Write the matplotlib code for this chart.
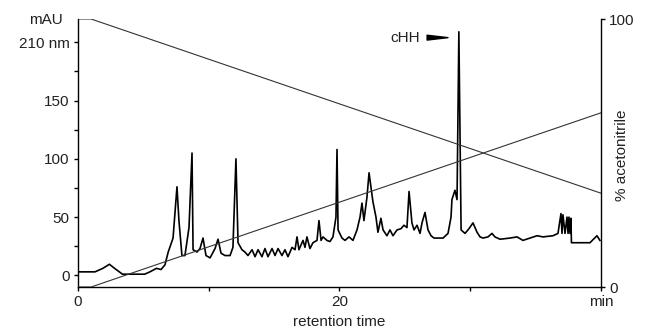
import matplotlib
matplotlib.use("Agg")
import matplotlib.pyplot as plt

plt.rcParams['font.family'] = ['Liberation Sans', 'DejaVu Sans']

# chromatogram (retention time in min, absorbance in mAU)
rt = [0, 1.3, 1.9, 2.4, 2.8, 3.4, 5.1, 5.5, 6.0, 6.35, 6.65, 6.9, 7.27, 7.57, 7.72,
      7.95, 8.18, 8.49, 8.72, 8.8, 9.1, 9.33, 9.56, 9.79, 10.1, 10.48, 10.71, 10.94,
      11.24, 11.63, 11.85, 12.08, 12.24, 12.54, 12.77, 13.0, 13.31, 13.54, 13.77, 14.07,
      14.3, 14.53, 14.84, 15.07, 15.3, 15.6, 15.83, 16.06, 16.37, 16.6, 16.75, 16.9,
      17.21, 17.36, 17.51, 17.74, 17.97, 18.28, 18.43, 18.59, 18.74, 19.04, 19.27, 19.5,
      19.73, 19.81, 19.89, 20.19, 20.42, 20.73, 21.03, 21.34, 21.57, 21.72, 21.87, 22.1,
      22.26, 22.49, 22.56, 22.79, 22.94, 23.17, 23.33, 23.63, 23.86, 24.09, 24.4, 24.7,
      24.93, 25.16, 25.32, 25.54, 25.7, 25.93, 26.16, 26.31, 26.54, 26.77, 27.0, 27.23,
      27.53, 27.92, 28.3, 28.53, 28.6, 28.83, 28.99, 29.13, 29.3, 29.6, 29.9, 30.21,
      30.52, 30.75, 30.98, 31.36, 31.66, 31.89, 32.28, 33.04, 33.58, 34.03, 34.57, 35.11,
      35.56, 36.33, 36.71, 36.94, 37.02, 37.09, 37.25, 37.4, 37.48, 37.55, 37.63, 37.7,
      37.74, 39.16, 39.69, 39.92]
mau = [3, 3, 6, 9.5, 6, 1, 1, 3, 6, 5, 9, 20, 32, 76, 47,
       17, 17, 41, 105, 22, 20, 23, 32, 17, 15, 23, 31, 19,
       17, 17, 24, 100, 28, 22, 20, 17, 22, 16, 22, 16,
       23, 16, 23, 17, 23, 17, 22, 16, 24, 22, 33, 22,
       30, 24, 33, 23, 28, 30, 47, 30, 33, 30, 29, 33,
       50, 108, 39, 32, 30, 33, 30, 39, 50, 62, 47, 67,
       88, 69, 63, 50, 37, 49, 39, 34, 39, 34, 39, 40,
       43, 41, 72, 45, 39, 43, 36, 45, 54, 39, 34, 32,
       32, 32, 36, 50, 65, 73, 65, 209, 39, 36, 40, 45,
       37, 33, 32, 33, 36, 33, 31, 32, 33, 30, 32, 34,
       33, 34, 36, 53, 36, 52, 36, 50, 36, 50, 36, 49,
       28, 28, 34, 30]

# gradient program
grad_t = [0, 1, 40]
acetonitrile = [0, 0, 65]
other = [100, 100, 35]

fig = plt.figure(figsize=(6.5, 3.3), dpi=100)
ax = fig.add_axes([0.12, 0.1303, 0.8046, 0.8121])
ax2 = ax.twinx()

ax.plot(rt, mau, color='black', linewidth=1.2, zorder=3)
ax2.plot(grad_t, acetonitrile, color='#333333', linewidth=0.8)
ax2.plot(grad_t, other, color='#333333', linewidth=0.8)

ax.set_xlim(0, 40)
ax.set_ylim(-10, 220)
ax2.set_ylim(0, 100)

for a in (ax, ax2):
    a.spines['top'].set_visible(False)
    for s in a.spines.values():
        s.set_linewidth(1.0)
ax.spines['right'].set_visible(False)
ax2.spines['left'].set_visible(False)
ax2.spines['bottom'].set_visible(False)

ax.set_yticks([0, 50, 100, 150, 200])
ax.set_yticklabels(['0', '50', '100', '150', '210 nm'])
ax.set_yticks([25, 75, 125, 175], minor=True)
ax.set_xticks([0, 10, 20, 30, 40])
ax.set_xticklabels(['0', '', '20', '', 'min'])
ax2.set_yticks([0, 100])
ax2.set_yticklabels(['0', '100'])

tc = '#222222'
for a in (ax, ax2):
    a.tick_params(which='both', direction='out', length=3, width=1, labelsize=11,
                  labelcolor=tc, pad=3)

ax.set_xlabel('retention time', fontsize=11, color=tc, labelpad=4)
fig.text(622 / 650, 1 - 155 / 330, '% acetonitrile', rotation=90, ha='center',
         va='center', fontsize=11, color=tc)
fig.text(63 / 650, 1 - 20 / 330, 'mAU', ha='right', va='center', fontsize=11, color=tc)

# cHH marker
ax.text(25.0, 204, 'cHH', ha='center', va='center', fontsize=11, color=tc)
ax.annotate('', xy=(28.3, 204), xytext=(26.7, 204),
            arrowprops=dict(arrowstyle='wedge,tail_width=0.35', color='black',
                            shrinkA=0, shrinkB=0))

fig.savefig('out.png', dpi=100)
